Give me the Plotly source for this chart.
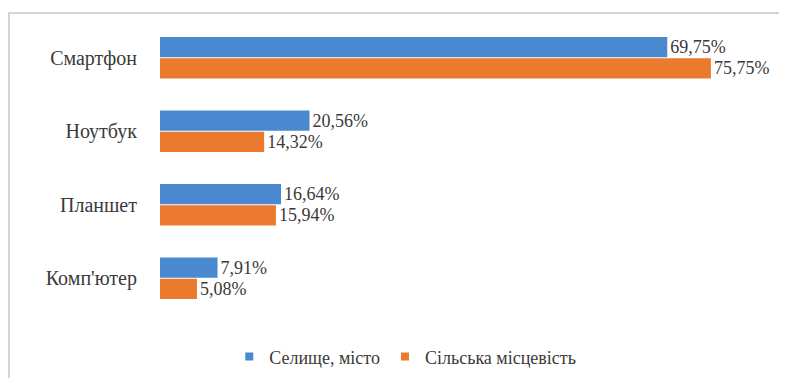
import plotly.graph_objects as go

categories = ["Смартфон", "Ноутбук", "Планшет", "Комп'ютер"]
town_values = [69.75, 20.56, 16.64, 7.91]
rural_values = [75.75, 14.32, 15.94, 5.08]
series_names = ["Селище, місто", "Сільська місцевість"]
colors = ["#4A89CF", "#EC7A2E"]

def fmt(v):
    return f"{v:.2f}%".replace(".", ",")

FONT = "Tinos"
TXT = "#3a3a3a"
fig = go.Figure()
for vals, name, col in zip([town_values, rural_values], series_names, colors):
    fig.add_trace(go.Bar(
        y=categories, x=vals, orientation="h", name=name, showlegend=False,
        marker=dict(color=col, line=dict(width=0)),
        text=[fmt(v) for v in vals], textposition="outside", cliponaxis=False,
        textfont=dict(family=FONT, size=18, color=TXT),
    ))
for name, col in zip(series_names, colors):
    fig.add_trace(go.Scatter(
        x=[None], y=[None], mode="markers", name=name,
        marker=dict(symbol="square", size=8, color=col),
    ))

fig.update_layout(
    width=779, height=370,
    margin=dict(l=152, r=27, t=13, b=63, autoexpand=False),
    paper_bgcolor="white", plot_bgcolor="white",
    barmode="group", bargap=0.42, bargroupgap=0.05,
    font=dict(family=FONT, size=16, color=TXT),
    showlegend=True,
    legend=dict(orientation="h", xref="container", yref="container",
                x=0.51, xanchor="center", y=0.057, yanchor="middle",
                traceorder="normal", font=dict(family=FONT, size=18, color=TXT),
                itemwidth=30, tracegroupgap=0),
    xaxis=dict(range=[0, 82.5], showgrid=False, zeroline=False, showticklabels=False,
               showline=False, fixedrange=True, automargin=False),
    yaxis=dict(autorange="reversed", showgrid=False, showline=False, ticks="",
               automargin=False, ticklabelstandoff=22,
               tickfont=dict(family=FONT, size=20, color=TXT)),
    shapes=[dict(type="rect", xref="paper", yref="paper",
                 x0=-151/600, x1=1.1, y0=-0.3, y1=1 + 8/294,
                 line=dict(color="#c8c8c8", width=1.5), layer="below")],
)

fig.write_html("out.html")
